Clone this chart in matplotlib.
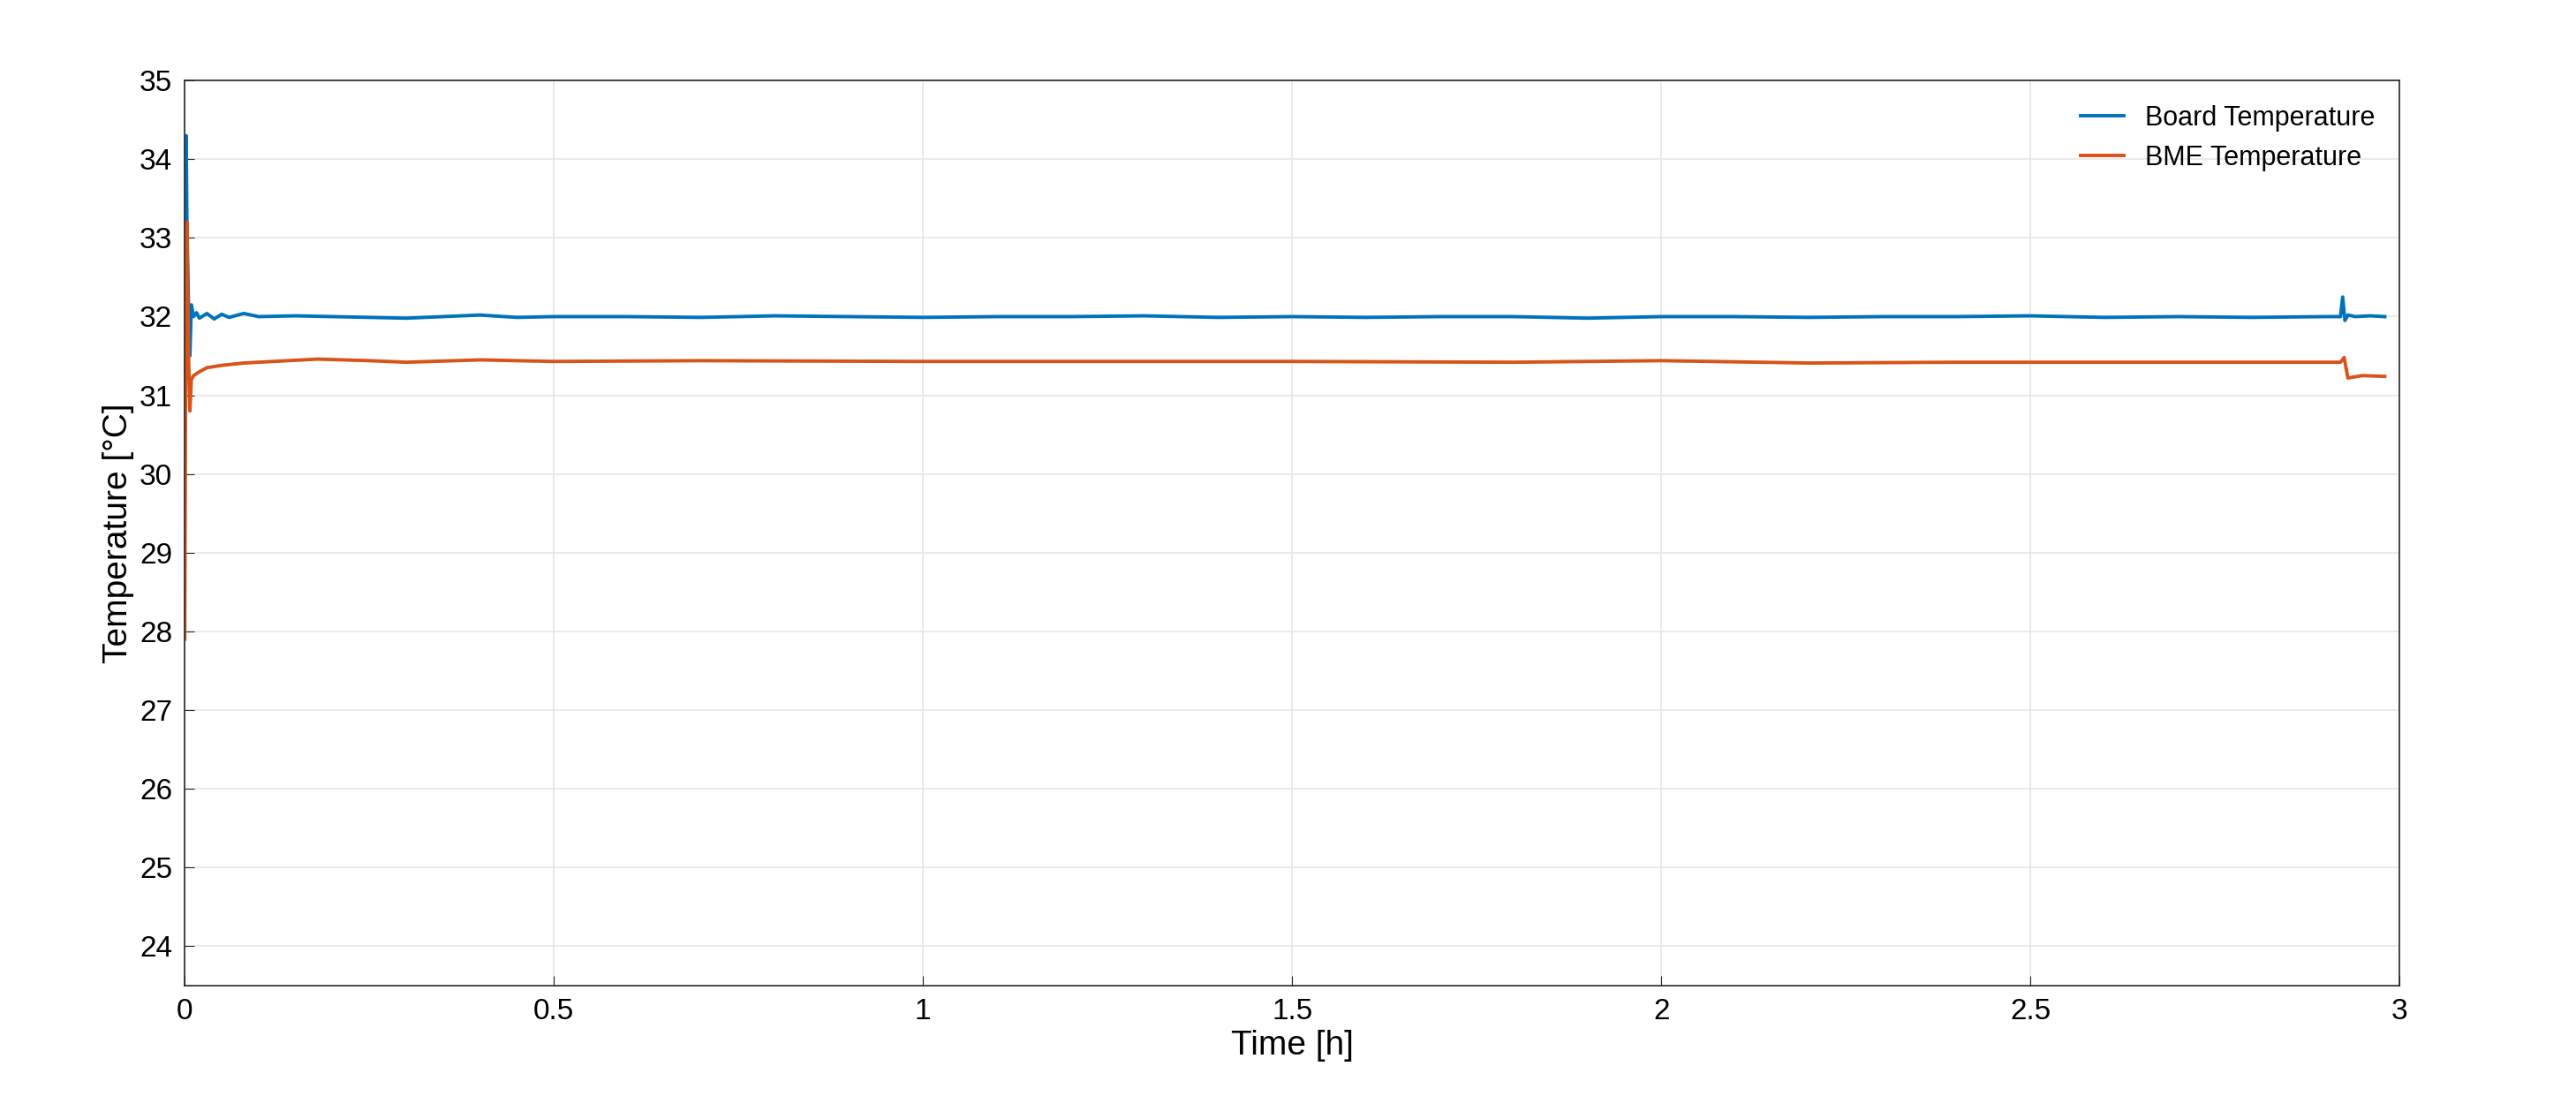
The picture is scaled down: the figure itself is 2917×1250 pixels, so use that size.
import matplotlib
matplotlib.use("Agg")
import matplotlib.pyplot as plt

board_t = [0.0, 0.001, 0.002, 0.003, 0.005, 0.007, 0.009, 0.012, 0.016, 0.02, 0.03, 0.04, 0.05, 0.06, 0.08, 0.1,
           0.15, 0.2, 0.25, 0.3, 0.35, 0.4, 0.45, 0.5, 0.6, 0.7, 0.8, 0.9, 1.0, 1.1, 1.2, 1.3, 1.4, 1.5, 1.6, 1.7,
           1.8, 1.9, 2.0, 2.1, 2.2, 2.3, 2.4, 2.5, 2.6, 2.7, 2.8, 2.9, 2.92, 2.923, 2.926, 2.93, 2.94, 2.96, 2.98]
board_v = [32.3, 33.6, 34.3, 33.2, 32.2, 31.5, 32.15, 32.0, 32.05, 31.98, 32.04, 31.97, 32.03, 31.99, 32.04, 32.0,
           32.01, 32.0, 31.99, 31.98, 32.0, 32.02, 31.99, 32.0, 32.0, 31.99, 32.01, 32.0, 31.99, 32.0, 32.0, 32.01, 31.99, 32.0, 31.99, 32.0,
           32.0, 31.98, 32.0, 32.0, 31.99, 32.0, 32.0, 32.01, 31.99, 32.0, 31.99, 32.0, 32.0, 32.25, 31.95, 32.02, 32.0, 32.01, 32.0]

bme_t = [0.0, 0.001, 0.002, 0.003, 0.005, 0.007, 0.009, 0.012, 0.02, 0.03, 0.05, 0.08, 0.12, 0.18, 0.25, 0.3,
         0.4, 0.5, 0.7, 1.0, 1.3, 1.5, 1.8, 2.0, 2.2, 2.4, 2.6, 2.8, 2.9, 2.92, 2.925, 2.93, 2.95, 2.98]
bme_v = [27.9, 30.5, 32.6, 33.2, 31.6, 30.8, 31.2, 31.25, 31.3, 31.35, 31.38, 31.41, 31.43, 31.46, 31.44, 31.42,
         31.45, 31.43, 31.44, 31.43, 31.43, 31.43, 31.42, 31.44, 31.41, 31.42, 31.42, 31.42, 31.42, 31.42, 31.48, 31.22, 31.25, 31.24]

plt.rcParams['font.family'] = ['Liberation Sans', 'DejaVu Sans']
fig = plt.figure(figsize=(29.17, 12.5), dpi=100)
ax = fig.add_axes([0.0717, 0.1075, 0.8598, 0.8195])
ax.plot(board_t, board_v, color='#0072BD', lw=2.8, label='Board Temperature')
ax.plot(bme_t, bme_v, color='#D95319', lw=2.8, label='BME Temperature')
ax.set_xlim(0, 3)
ax.set_ylim(23.5, 35)
ax.set_yticks(range(24, 36))
ax.set_xticks([0, 0.5, 1, 1.5, 2, 2.5, 3])
ax.set_xticklabels(['0', '0.5', '1', '1.5', '2', '2.5', '3'])
ax.grid(True, color='#e6e6e6', lw=1.2)
ax.set_axisbelow(True)
for s in ax.spines.values():
    s.set_color('#262626'); s.set_linewidth(1.2)
ax.tick_params(labelsize=24, direction='in', length=8, color='#262626', pad=10)
ax.set_xlabel('Time [h]', fontsize=28)
ax.set_ylabel('Temperature [°C]', fontsize=28)
ax.legend(loc='upper right', fontsize=22, frameon=False, handlelength=1.6)
fig.savefig('out.png', dpi=100)
